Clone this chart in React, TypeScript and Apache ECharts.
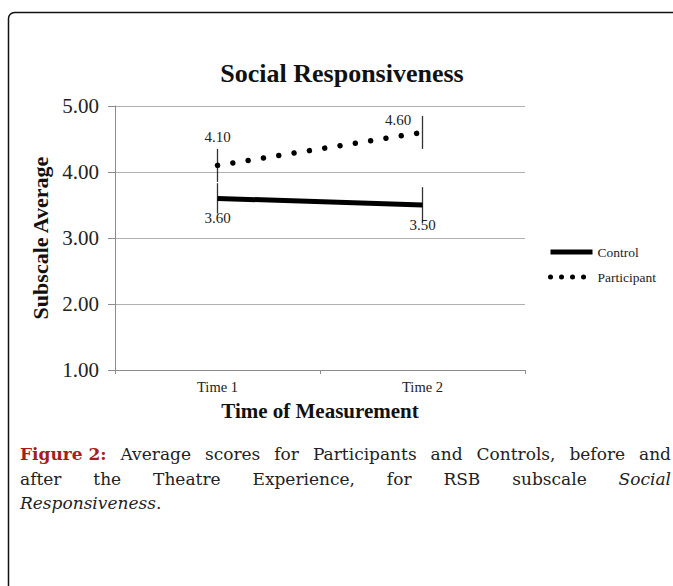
import React, { useEffect, useRef } from "react";
import * as echarts from "echarts";

const categories = ["Time 1", "Time 2"];
const controlValues = [3.6, 3.5];
const participantValues = [4.1, 4.6];
const controlErrors = [0.23, 0.27];
const participantErrors = [0.25, 0.25];
const yMin = 1;
const yMax = 5;
const yInterval = 1;

const captionLine1 = [
  { t: "Figure 2:", w: "bold", c: "#a51d1d" },
  { t: "Average" },
  { t: "scores" },
  { t: "for" },
  { t: "Participants" },
  { t: "and" },
  { t: "Controls," },
  { t: "before" },
  { t: "and" },
];
const captionLine2 = [
  { t: "after" },
  { t: "the" },
  { t: "Theatre" },
  { t: "Experience," },
  { t: "for" },
  { t: "RSB" },
  { t: "subscale" },
  { t: "Social", s: "italic" },
];

const SERIF = "'Liberation Serif', 'Times New Roman', serif";
const CAP = "'DejaVu Serif', serif";
const CAP_SIZE = 17;

type Word = { t: string; w?: string; c?: string; s?: string };

export default function App() {
  const ref = useRef<HTMLDivElement>(null);
  useEffect(() => {
    if (!ref.current) return;
    const chart = echarts.init(ref.current, null, { renderer: "svg" });
    const canvas = document.createElement("canvas");
    const ctx = canvas.getContext("2d")!;
    const fontOf = (wd: Word) =>
      `${wd.s || "normal"} ${wd.w || "normal"} ${CAP_SIZE}px 'DejaVu Serif'`;
    const justify = (words: Word[], x0: number, x1: number, y: number) => {
      const widths = words.map((wd) => {
        ctx.font = fontOf(wd);
        return ctx.measureText(wd.t).width;
      });
      const total = widths.reduce((a, b) => a + b, 0);
      const gap = (x1 - x0 - total) / (words.length - 1);
      let x = x0;
      return words.map((wd, i) => {
        const el = {
          type: "text",
          x,
          y,
          style: {
            text: wd.t,
            fontFamily: CAP,
            fontSize: CAP_SIZE,
            fontWeight: wd.w || "normal",
            fontStyle: wd.s || "normal",
            fill: wd.c || "#222",
          },
        };
        x += widths[i] + gap;
        return el;
      });
    };
    const errData = (vals: number[], errs: number[]) =>
      vals.map((v, i) => [i, v - errs[i], v + errs[i]]);
    const renderErr = (params: any, api: any) => {
      const lo = api.coord([api.value(0), api.value(1)]);
      const hi = api.coord([api.value(0), api.value(2)]);
      return {
        type: "line",
        shape: { x1: lo[0], y1: lo[1], x2: hi[0], y2: hi[1] },
        style: { stroke: "#333", lineWidth: 1.3 },
      };
    };
    const labelBase = { fontFamily: SERIF, fontSize: 15, color: "#222" };
    const fmt = (p: any) => Number(p.value).toFixed(2);
    chart.setOption({
      animation: false,
      title: {
        text: "Social Responsiveness",
        left: 337,
        top: 55,
        textAlign: "center",
        textStyle: { fontFamily: SERIF, fontSize: 26, fontWeight: "bold", color: "#111" },
      },
      legend: {
        orient: "vertical",
        left: 543,
        top: 240,
        itemWidth: 42,
        itemHeight: 10,
        itemGap: 11,
        itemStyle: { opacity: 0 },
        data: [
          { name: "Control", lineStyle: { width: 5 } },
          { name: "Participant", lineStyle: { width: 5, type: [0.01, 11], cap: "round" } },
        ],
        textStyle: { fontFamily: SERIF, fontSize: 13.5, color: "#222" },
      },
      grid: { left: 115, right: 148, top: 106, bottom: 216 },
      xAxis: {
        type: "category",
        data: categories,
        boundaryGap: true,
        name: "Time of Measurement",
        nameLocation: "middle",
        nameGap: 30,
        nameTextStyle: { fontFamily: SERIF, fontSize: 21, fontWeight: "bold", color: "#111" },
        axisLine: { lineStyle: { color: "#8c8c8c", width: 1 } },
        axisTick: { show: true, length: 4, lineStyle: { color: "#8c8c8c" } },
        axisLabel: { fontFamily: SERIF, fontSize: 14.5, color: "#222", margin: 9 },
      },
      yAxis: {
        type: "value",
        min: yMin,
        max: yMax,
        interval: yInterval,
        name: "Subscale Average",
        nameLocation: "middle",
        nameGap: 55,
        nameTextStyle: { fontFamily: SERIF, fontSize: 22, fontWeight: "bold", color: "#111" },
        axisLine: { show: true, lineStyle: { color: "#8c8c8c", width: 1 } },
        axisTick: { show: true, length: 7, lineStyle: { color: "#8c8c8c" } },
        axisLabel: {
          fontFamily: SERIF,
          fontSize: 21,
          color: "#222",
          margin: 16,
          formatter: (v: number) => v.toFixed(2),
        },
        splitLine: { show: true, lineStyle: { color: "#b0b0b0", width: 1 } },
      },
      series: [
        {
          name: "Control",
          type: "line",
          data: controlValues,
          symbol: "circle",
          symbolSize: 0.5,
          color: "#000",
          lineStyle: { color: "#000", width: 5 },
          label: { show: true, position: "bottom", distance: 12, formatter: fmt, ...labelBase },
          z: 3,
        },
        {
          name: "Participant",
          type: "line",
          data: participantValues.map((v, i) =>
            i === 0
              ? { value: v, label: { position: "top", distance: 21 } }
              : { value: v, label: { position: "left", offset: [0, -12], distance: 11 } }
          ),
          symbol: "circle",
          symbolSize: 0.5,
          color: "#000",
          lineStyle: { color: "#000", width: 5.5, type: [0.01, 15.5], cap: "round" },
          label: { show: true, formatter: fmt, ...labelBase },
          z: 3,
        },
        {
          type: "custom",
          name: "ControlErr",
          data: errData(controlValues, controlErrors),
          encode: { x: 0, y: [1, 2] },
          renderItem: renderErr,
          z: 2,
        },
        {
          type: "custom",
          name: "ParticipantErr",
          data: errData(participantValues, participantErrors),
          encode: { x: 0, y: [1, 2] },
          renderItem: renderErr,
          z: 2,
        },
      ],
      graphic: [
        {
          type: "rect",
          shape: { x: 8.5, y: 12.5, width: 720, height: 700, r: 6 },
          style: { fill: "none", stroke: "#111", lineWidth: 1.5 },
          silent: true,
        },
        ...justify(captionLine1, 20, 671, 445),
        ...justify(captionLine2, 20, 671, 470),
        {
          type: "text",
          x: 20,
          y: 494,
          style: {
            text: "{i|Responsiveness}.",
            fontFamily: CAP,
            fontSize: CAP_SIZE,
            fill: "#222",
            rich: { i: { fontFamily: CAP, fontSize: CAP_SIZE, fontStyle: "italic", fill: "#222" } },
          },
        },
      ],
    });
    return () => chart.dispose();
  }, []);
  return (
    <div
      ref={ref}
      style={{ position: "absolute", left: 0, top: 0, width: 673, height: 586, background: "#fff" }}
    />
  );
}
